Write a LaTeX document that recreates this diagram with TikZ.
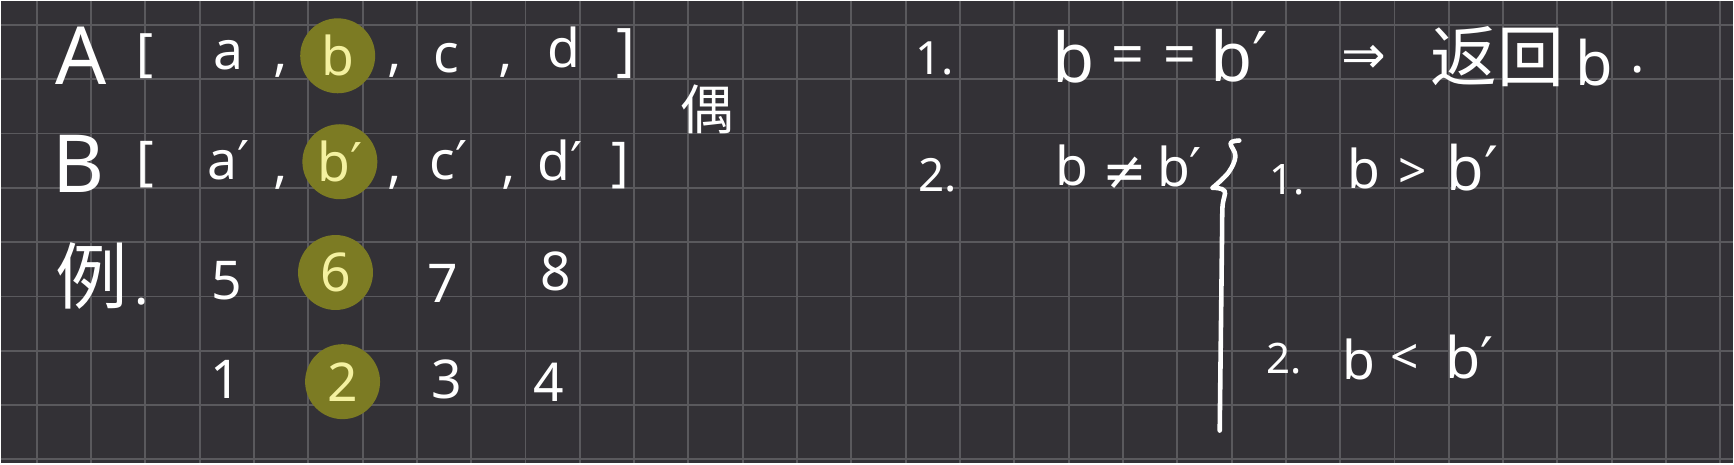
\documentclass[tikz,border=0pt]{standalone}
\usepackage{fontspec}
\setmainfont{Noto Sans}
\newfontfamily\hanzi{Noto Sans CJK SC}
\newfontfamily\signs{DejaVu Sans}
\usetikzlibrary{positioning,calc}
\definecolor{board}{HTML}{333136}
\definecolor{gridgray}{HTML}{5A595D}
\definecolor{marker}{HTML}{7C7B23}
\definecolor{markink}{HTML}{F4F1A0}
\newcommand{\sz}[1]{\fontsize{#1}{#1}\selectfont}

\tikzset{
  chalk/.style={text=white, inner sep=0pt},
  letter/.style={chalk, font=\sz{28}},
  digit/.style={chalk, font=\sz{28}},
  hl/.style={circle, fill=marker, minimum size=1.38cm, inner sep=0pt, text=markink, font=\sz{28}},
  pen/.style={draw=white, line width=2.4pt, line cap=round, line join=round}
}

\begin{document}
\begin{tikzpicture}[x=1cm, y=-1cm]
  % board and grid
  \fill[board] (0,0) rectangle (31.892,8.516);
  \foreach \i in {0,...,31}
    \draw[gridgray, line width=1pt] ({0.658+\i},0) -- ({0.658+\i},8.516);
  \foreach \j in {0,...,8}
    \draw[gridgray, line width=1pt] (0,{0.441+\j}) -- (31.892,{0.441+\j});

  % array A
  \node[chalk, font=\sz{42}] (A) at (1.47,1.01) {A};
  \node[chalk, font=\sz{27}] (Aopen) at (2.65,1.01) {[};
  \node[letter] (Aa) at (4.19,1.0) {a};
  \node[letter] (Ak1) at (5.15,1.29) {,};
  \node[hl] (Ab) at (6.20,1.01) {b};
  \node[letter] (Ak2) at (7.25,1.29) {,};
  \node[letter] (Ac) at (8.20,1.05) {c};
  \node[letter] (Ak3) at (9.29,1.29) {,};
  \node[letter] (Ad) at (10.36,0.86) {d};
  \node[chalk, font=\sz{30}] (Aclose) at (11.50,0.96) {]};
  \node[chalk, font={\hanzi\sz{28}}] (ou) at (13.0,1.99) {偶};

  % array B
  \node[chalk, font=\sz{42}] (B) at (1.43,3.0) {B};
  \node[chalk, font=\sz{28}] (Bopen) at (2.65,3.02) {[};
  \node[letter] (Ba) at (4.19,2.93) {a\signs′};
  \node[letter] (Bk1) at (5.15,3.35) {,};
  \node[hl] (Bb) at (6.24,2.96) {b\signs′};
  \node[letter] (Bk2) at (7.24,3.35) {,};
  \node[letter] (Bc) at (8.24,2.93) {c\signs′};
  \node[letter] (Bk3) at (9.35,3.35) {,};
  \node[letter] (Bd) at (10.30,2.94) {d\signs′};
  \node[chalk, font=\sz{28}] (Bclose) at (11.40,3.03) {]};

  % example
  \node[chalk, font={\hanzi\sz{38}}] (li) at (1.67,5.06) {例};
  \node[chalk, font=\sz{28}] (lidot) at (2.59,5.54) {.};
  \node[digit] (d5) at (4.16,5.15) {5};
  \node[hl] (d6) at (6.16,5.0) {6};
  \node[digit] (d7) at (8.13,5.2) {7};
  \node[digit] (d8) at (10.21,4.98) {8};
  \node[digit] (d1) at (4.14,6.97) {1};
  \node[hl] (d2) at (6.29,7.01) {2};
  \node[digit] (d3) at (8.20,6.97) {3};
  \node[digit] (d4) at (10.08,7.03) {4};

  % case 1
  \node[chalk, font=\sz{24}] (n1) at (17.19,1.05) {1.};
  \node[chalk, font=\sz{36}] (eqb) at (19.75,1.03) {b};
  \node[chalk, font=\sz{30}] (eq1) at (20.75,1.10) {=};
  \node[chalk, font=\sz{30}] (eq2) at (21.70,1.10) {=};
  \node[chalk, font=\sz{36}] (eqbp) at (22.80,1.0) {b\signs′};
  \node[chalk, font={\signs\sz{28}}] (imp) at (25.09,1.07) {⇒};
  \node[chalk, font={\hanzi\sz{35}}] (ret) at (27.55,1.03) {返回};
  \node[chalk, font=\sz{32}] (retb) at (29.34,1.14) {b};
  \node[chalk, font=\sz{28}] (retdot) at (30.13,1.27) {.};

  % case 2
  \node[chalk, font=\sz{24}] (n2) at (17.25,3.20) {2.};
  \node[letter] (neb) at (19.71,3.03) {b};
  \node[chalk, font={\signs\sz{28}}] (neq) at (20.69,3.18) {≠};
  \node[letter] (nebp) at (21.70,3.05) {b\signs′};
  \draw[pen] plot[smooth, tension=0.6] coordinates {(22.80,2.57) (22.64,2.62) (22.73,2.86) (22.60,3.16) (22.31,3.44)};
  \draw[pen] plot[smooth, tension=0.6] coordinates {(22.31,3.44) (22.53,3.50) (22.49,3.81) (22.48,4.60) (22.44,7.91)};
  \node[chalk, font=\sz{22}] (s1) at (23.68,3.29) {1.};
  \node[letter] (gtb) at (25.09,3.09) {b};
  \node[chalk, font=\sz{26}] (gt) at (25.99,3.17) {>};
  \node[chalk, font=\sz{32}] (gtbp) at (27.09,3.07) {b\signs′};
  \node[chalk, font=\sz{22}] (s2) at (23.62,6.59) {2.};
  \node[letter] (ltb) at (25.01,6.60) {b};
  \node[chalk, font=\sz{26}] (lt) at (25.84,6.60) {<};
  \node[chalk, font=\sz{30}] (ltbp) at (27.04,6.56) {b\signs′};
\end{tikzpicture}
\end{document}
